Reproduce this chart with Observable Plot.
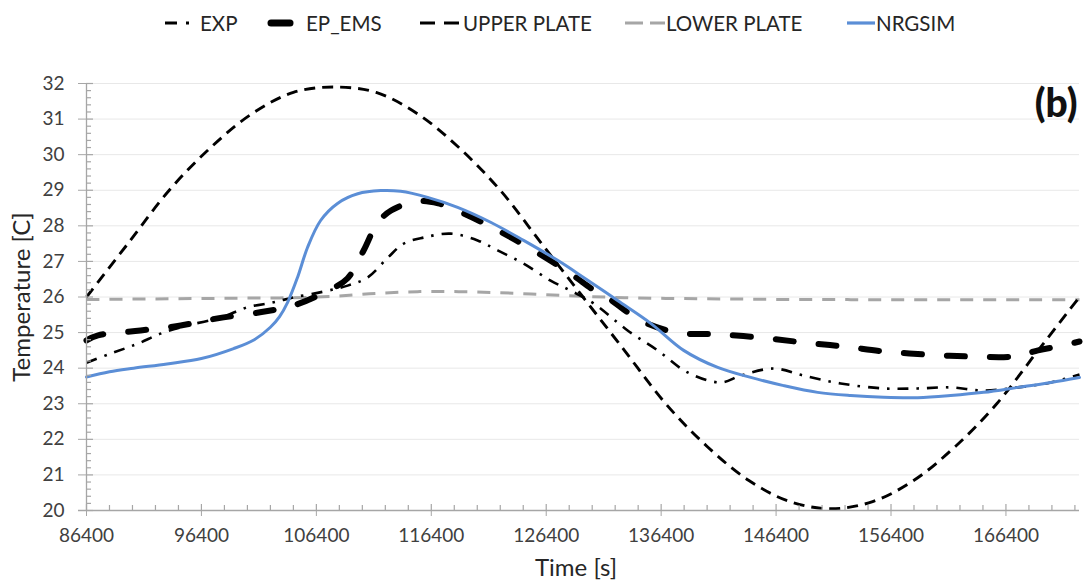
<!DOCTYPE html>
<html><head><meta charset="utf-8">
<script src="https://cdn.jsdelivr.net/npm/d3@7"></script>
<script src="https://cdn.jsdelivr.net/npm/@observablehq/plot@0.6"></script>
<style>
body{margin:0;background:#fff;font-family:Lato,sans-serif;}
#wrap{position:relative;width:1084px;height:587px;overflow:hidden;}
#legend{position:relative;height:45px;}
.item{position:absolute;top:10px;display:flex;align-items:center;font-size:20.5px;color:#262626;height:26px;white-space:nowrap}
.item svg{display:block}
</style></head><body><div id="wrap"><div id="legend"></div><div id="chart"></div></div>
<script>
// ---- data ----
const seriesNames = ["EXP", "EP_EMS", "UPPER PLATE", "LOWER PLATE", "NRGSIM"];

const expTime = [86400, 88400, 89970, 91100, 92840, 95190, 98060, 100410, 102680, 104420, 107000, 109120, 110860, 112600, 114000, 115730, 118080, 120430, 122170, 124430, 126780, 128520, 130530, 133480, 136090, 138700, 141580, 143320, 146190, 148800, 152020, 155760, 158720, 161590, 164460, 167430, 170300, 172800];
const expTemp = [24.15, 24.4, 24.58, 24.72, 24.97, 25.2, 25.42, 25.71, 25.85, 25.99, 26.15, 26.32, 26.55, 27.1, 27.5, 27.67, 27.78, 27.59, 27.31, 26.94, 26.46, 26.18, 25.82, 25.06, 24.5, 23.88, 23.6, 23.79, 23.99, 23.79, 23.57, 23.43, 23.43, 23.46, 23.37, 23.46, 23.6, 23.82];

const epTime = [86400, 87400, 91100, 94600, 97800, 101500, 104400, 107400, 109100, 110500, 111700, 112900, 115200, 117000, 119200, 122200, 125300, 128500, 130600, 131700, 134600, 137800, 141300, 145100, 148800, 152300, 155800, 159600, 163300, 167100, 169200, 171400, 172800];
const epTemp = [24.78, 24.92, 25.06, 25.2, 25.4, 25.57, 25.76, 26.18, 26.52, 27.3, 28.07, 28.43, 28.69, 28.63, 28.35, 27.87, 27.31, 26.66, 26.18, 25.99, 25.34, 25.0, 24.95, 24.86, 24.72, 24.61, 24.47, 24.38, 24.33, 24.33, 24.5, 24.64, 24.75];

const plateTime = [86400, 90000, 93600, 97200, 100800, 104400, 108000, 111600, 115200, 118800, 122400, 126000, 129600, 133200, 136800, 140400, 144000, 147600, 151200, 154800, 158400, 162000, 165600, 169200, 172800];
const upperTemp = [26.0, 27.5, 29.0, 30.2, 31.15, 31.75, 31.9, 31.75, 31.15, 30.2, 29.0, 27.5, 26.0, 24.5, 23.0, 21.8, 20.85, 20.25, 20.05, 20.25, 20.85, 21.8, 23.0, 24.5, 26.0];
const lowerTemp = [25.93, 25.94, 25.95, 25.96, 25.97, 25.98, 26.02, 26.1, 26.15, 26.15, 26.12, 26.07, 26.02, 25.98, 25.96, 25.95, 25.94, 25.93, 25.93, 25.92, 25.92, 25.92, 25.92, 25.92, 25.92];

const nrgTime = [86400, 88400, 90500, 93400, 96400, 99200, 101000, 102400, 103200, 103900, 104760, 105630, 106770, 108240, 110000, 112000, 113730, 116080, 118690, 121560, 124430, 127390, 129650, 132610, 135490, 138360, 141320, 144190, 147060, 150020, 152890, 155760, 158720, 161590, 164460, 167430, 170300, 172800];
const nrgTemp = [23.75, 23.9, 24.0, 24.12, 24.27, 24.55, 24.8, 25.15, 25.45, 25.85, 26.55, 27.39, 28.15, 28.63, 28.9, 28.99, 28.97, 28.8, 28.52, 28.1, 27.59, 27.03, 26.55, 25.9, 25.26, 24.5, 24.02, 23.74, 23.51, 23.32, 23.23, 23.18, 23.17, 23.23, 23.32, 23.46, 23.6, 23.74];

const xTicks = [86400, 96400, 106400, 116400, 126400, 136400, 146400, 156400, 166400];
const yTicks = [20, 21, 22, 23, 24, 25, 26, 27, 28, 29, 30, 31, 32];
const xLabel = "Time [s]";
const yLabel = "Temperature [C]";
const panelTag = "(b)";

// ---- styles ----
const styles = {
  "EXP":         {stroke: "#000", strokeWidth: 2.6, dash: "11,8,2.5,8", cap: "butt"},
  "EP_EMS":      {stroke: "#000", strokeWidth: 6,   dash: "18,25", cap: "round"},
  "UPPER PLATE": {stroke: "#000", strokeWidth: 2.9, dash: "11,7", cap: "butt"},
  "LOWER PLATE": {stroke: "#a6a6a6", strokeWidth: 3, dash: "13,10", cap: "butt"},
  "NRGSIM":      {stroke: "#5b8ed6", strokeWidth: 3, dash: null, cap: "round"}
};

const toRows = (ts, vs) => ts.map((t, i) => ({t, v: vs[i]}));
const seriesData = {
  "EXP": toRows(expTime, expTemp),
  "EP_EMS": toRows(epTime, epTemp),
  "UPPER PLATE": toRows(plateTime, upperTemp),
  "LOWER PLATE": toRows(plateTime, lowerTemp),
  "NRGSIM": toRows(nrgTime, nrgTemp)
};

const xMinor = d3.range(86400, 172801, 2000).filter(v => !xTicks.includes(v));
const yMinor = d3.range(20, 32.001, 0.2).map(v => +v.toFixed(1)).filter(v => !yTicks.includes(v));

const W = 1084, H = 542, mT = 38, mB = 77, mL = 86, mR = 5;
const fw = W - mL - mR, fh = H - mT - mB;
const axisColor = "#a6a6a6";

const lineMark = name => Plot.line(seriesData[name], {
  x: "t", y: "v", curve: "catmull-rom",
  stroke: styles[name].stroke, strokeWidth: styles[name].strokeWidth,
  strokeDasharray: styles[name].dash || undefined, strokeLinecap: styles[name].cap
});

const chart = Plot.plot({
  width: W, height: H,
  marginTop: mT, marginBottom: mB, marginLeft: mL, marginRight: mR,
  style: {fontFamily: "Lato, sans-serif", fontSize: "19px", color: "#404040", background: "#fff"},
  x: {domain: [86400, 172800], axis: null},
  y: {domain: [20, 32], axis: null},
  marks: [
    Plot.ruleY(yTicks.slice(1), {stroke: "#e8e8e8", strokeWidth: 1}),
    lineMark("LOWER PLATE"),
    lineMark("UPPER PLATE"),
    lineMark("EP_EMS"),
    lineMark("EXP"),
    lineMark("NRGSIM"),
    Plot.ruleY([20], {stroke: axisColor, strokeWidth: 1.3, insetLeft: -8}),
    Plot.ruleX([86400], {stroke: axisColor, strokeWidth: 1.3}),
    Plot.tickY(yMinor, {stroke: axisColor, strokeWidth: 1.2, insetRight: fw - 5}),
    Plot.tickY(yTicks, {stroke: axisColor, strokeWidth: 1.2, insetRight: fw - 7}),
    Plot.tickX(xMinor, {stroke: axisColor, strokeWidth: 1.2, insetTop: fh - 5}),
    Plot.tickX(xTicks, {stroke: axisColor, strokeWidth: 1.2, insetTop: fh - 6}),
    Plot.axisY({ticks: yTicks, tickSize: 8, tickPadding: 14, stroke: axisColor, label: null, tickFormat: d3.format("d")}),
    Plot.axisX({ticks: xTicks, tickSize: 6, tickPadding: 12, stroke: axisColor, label: null, tickFormat: d3.format("d")}),
    Plot.text([xLabel], {frameAnchor: "bottom", dx: -7, dy: 65, textAnchor: "middle", fontSize: 24, fill: "#262626"}),
    Plot.text([yLabel], {frameAnchor: "left", dx: -64, rotate: -90, textAnchor: "middle", fontSize: 24, fill: "#262626"}),
    Plot.text([panelTag], {frameAnchor: "top-right", dx: -2, dy: 6, lineAnchor: "top", textAnchor: "end", fontSize: 39, fontWeight: 900, fill: "#111"})
  ]
});
document.getElementById("chart").appendChild(chart);

// ---- legend ----
const legendLayout = {
  "EXP":         {left: 165, sw: 27, gap: 8},
  "EP_EMS":      {left: 267, sw: 27, gap: 12},
  "UPPER PLATE": {left: 420, sw: 42, gap: 1},
  "LOWER PLATE": {left: 625, sw: 40, gap: 1},
  "NRGSIM":      {left: 847, sw: 28, gap: 1}
};
const legendDash = {
  "EXP": "12,9,3,20",
  "EP_EMS": null,
  "UPPER PLATE": "15,9",
  "LOWER PLATE": "18,7",
  "NRGSIM": null
};
const legend = d3.select("#legend");
seriesNames.forEach(name => {
  const L = legendLayout[name], S = styles[name];
  const item = legend.append("div").attr("class", "item").style("left", L.left + "px");
  const svg = item.append("svg").attr("width", L.sw).attr("height", 14).style("margin-right", L.gap + "px");
  const cap = name === "EP_EMS" ? "round" : "butt";
  const pad = name === "EP_EMS" ? 4 : 0;
  svg.append("line").attr("x1", pad).attr("x2", L.sw - pad).attr("y1", 7).attr("y2", 7)
    .attr("stroke", S.stroke).attr("stroke-width", name === "EP_EMS" ? 7 : 3.2)
    .attr("stroke-linecap", cap)
    .attr("stroke-dasharray", legendDash[name]);
  item.append("span").text(name);
});
</script>
</body></html>
